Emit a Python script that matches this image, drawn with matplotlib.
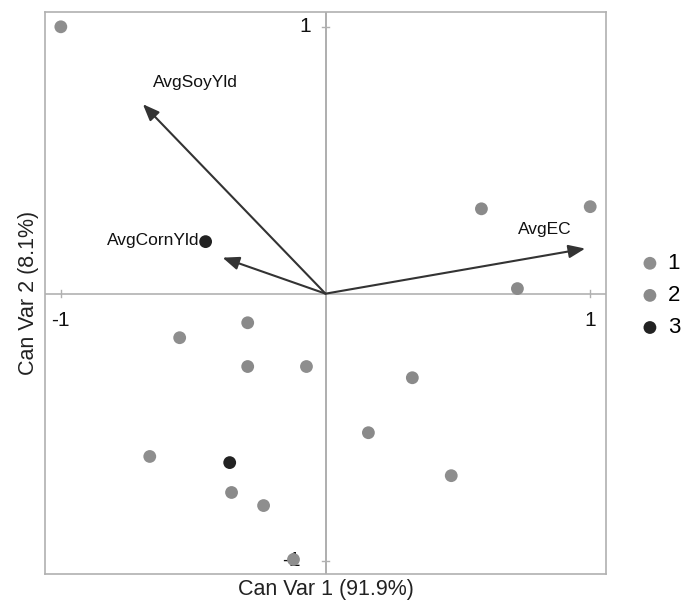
import matplotlib
matplotlib.use("Agg")
import matplotlib.pyplot as plt

plt.rcParams['font.family'] = ['Liberation Sans', 'DejaVu Sans']

# Canonical scores (Can Var 1, Can Var 2) by group
g1_x = [-1.00, 1.00, 0.475, -0.551, -0.072, -0.664, -0.234, -0.121]
g1_y = [1.00, 0.326, -0.682, -0.165, -0.273, -0.610, -0.794, -0.996]
g2_x = [0.589, 0.725, 0.328, 0.162, -0.294, -0.294, -0.355]
g2_y = [0.318, 0.019, -0.315, -0.521, -0.109, -0.273, -0.745]
g3_x = [-0.453, -0.362]
g3_y = [0.195, -0.633]

# Biplot rays
ray_names = ["AvgSoyYld", "AvgCornYld", "AvgEC"]
ray_x = [-0.69, -0.389, 0.981]
ray_y = [0.71, 0.135, 0.169]
label_x = [-0.49, -0.65, 0.83]
label_y = [0.79, 0.20, 0.24]

group_labels = ["1", "2", "3"]
group_colors = ["#8e8e8e", "#8a8a8a", "#222222"]

fig = plt.figure(figsize=(6.81, 6.06), dpi=100)
ax = fig.add_axes([0.066, 0.053, 0.824, 0.927])
ax.set_xlim(-1.06, 1.06)
ax.set_ylim(-1.05, 1.055)
for s in ax.spines.values():
    s.set_color("#b0b0b0")
    s.set_linewidth(1.2)
ax.set_xticks([])
ax.set_yticks([])

# axis lines through origin
ax.axhline(0, color="#b8b8b8", lw=1.3, zorder=1)
ax.axvline(0, color="#a8a8a8", lw=1.3, zorder=1)
# small ticks at +-1
tk = 0.012
for v in (-1, 1):
    ax.plot([v, v], [-tk, tk], color="#b0b0b0", lw=1, zorder=1)
    ax.plot([-tk, tk], [v, v], color="#b0b0b0", lw=1, zorder=1)

tfs = 15
ax.text(-1.0, -0.065, "-1", fontsize=tfs, ha="center", va="top", color="#111")
ax.text(1.0, -0.065, "1", fontsize=tfs, ha="center", va="top", color="#111")
ax.text(-0.055, 1.0, "1", fontsize=tfs, ha="right", va="center", color="#111")
ax.text(-0.095, -1.0, "-1", fontsize=tfs, ha="right", va="center", color="#111", zorder=2)

# rays
for n, x, y, lx, ly in zip(ray_names, ray_x, ray_y, label_x, label_y):
    ax.annotate("", xy=(x, y), xytext=(0, 0),
                arrowprops=dict(arrowstyle="-|>,head_length=1.0,head_width=0.4",
                                color="#333333", lw=1.5, shrinkA=0, shrinkB=0),
                zorder=3)
    ax.text(lx, ly, n, fontsize=12.5, ha="center", va="center", color="#111")

# points
h = []
for xs, ys, c, lab in zip([g1_x, g2_x, g3_x], [g1_y, g2_y, g3_y], group_colors, group_labels):
    sc = ax.scatter(xs, ys, s=85, color=c, edgecolors="none", zorder=4, label=lab)
    h.append(sc)

ax.set_xlabel("Can Var 1 (91.9%)", fontsize=15.5, labelpad=4, color="#222")
ax.set_ylabel("Can Var 2 (8.1%)", fontsize=15.5, labelpad=4, color="#222")

fig.legend(handles=h, labels=group_labels, loc="center left",
           bbox_to_anchor=(0.925, 0.512), frameon=False, fontsize=16,
           handletextpad=0.3, labelspacing=0.5, borderaxespad=0,
           handlelength=1.0, markerscale=1.0)

fig.savefig("out.png", dpi=100)
